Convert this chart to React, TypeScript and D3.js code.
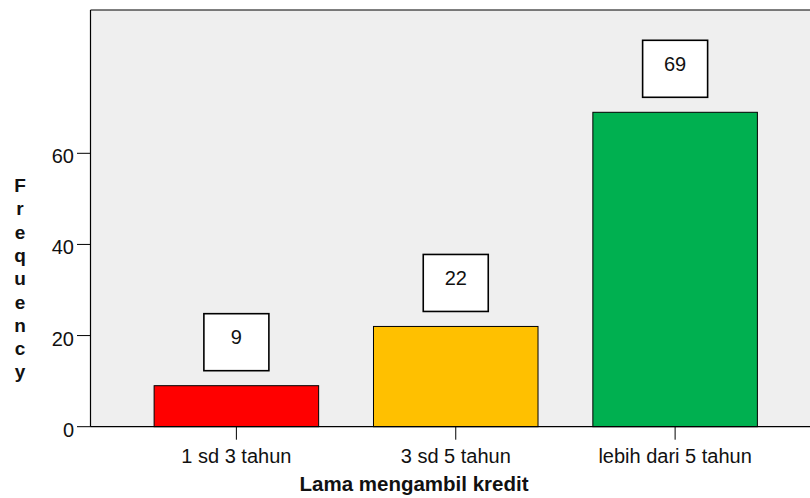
import React from "react";
import * as d3 from "d3";

const categories = ["1 sd 3 tahun", "3 sd 5 tahun", "lebih dari 5 tahun"];
const frequencies = [9, 22, 69];
const barColors = ["#ff0000", "#ffc000", "#00b050"];
const yTicks = [0, 20, 40, 60];
const yTitle = "Frequency";
const xTitle = "Lama mengambil kredit";

const W = 810;
const H = 498;
const FONT = "Arial, 'Liberation Sans', sans-serif";

export default function App() {
  const left = 90.5;
  const top = 10;
  const bottom = 426.7;
  const right = 821;

  const x = d3
    .scaleBand<string>()
    .domain(categories)
    .range([left, right])
    .paddingInner(0.25)
    .paddingOuter(0.29);
  const y = d3.scaleLinear().domain([0, 91.45]).range([bottom, top]);

  const boxW = 65;
  const boxH = 57;

  return (
    <svg
      width={W}
      height={H}
      style={{ position: "absolute", left: 0, top: 0, display: "block" }}
      fontFamily={FONT}
    >
      <rect x={0} y={0} width={W} height={H} fill="#ffffff" />
      {/* plot area */}
      <rect x={left} y={top} width={right - left} height={bottom - top} fill="#efefef" />
      <line x1={left} x2={right} y1={top} y2={top} stroke="#000" strokeWidth={1.2} />
      <line x1={left} x2={left} y1={top} y2={bottom} stroke="#000" strokeWidth={1.2} />

      {/* bars */}
      {categories.map((c, i) => {
        const bx = x(c)!;
        const by = y(frequencies[i]);
        return (
          <rect
            key={c}
            x={bx}
            y={by}
            width={x.bandwidth()}
            height={bottom - by}
            fill={barColors[i]}
            stroke="#000"
            strokeWidth={1}
          />
        );
      })}

      {/* value labels */}
      {categories.map((c, i) => {
        const cx = x(c)! + x.bandwidth() / 2;
        const by = y(frequencies[i]);
        const boxTop = by - 15 - boxH;
        return (
          <g key={"lbl" + c}>
            <rect
              x={cx - boxW / 2}
              y={boxTop}
              width={boxW}
              height={boxH}
              fill="#ffffff"
              stroke="#000"
              strokeWidth={1.6}
            />
            <text x={cx} y={boxTop + 30.5} textAnchor="middle" fontSize={20} fill="#111">
              {frequencies[i]}
            </text>
          </g>
        );
      })}

      {/* x axis */}
      <line x1={left} x2={right} y1={bottom} y2={bottom} stroke="#000" strokeWidth={1.2} />
      {categories.map((c) => {
        const cx = x(c)! + x.bandwidth() / 2;
        return (
          <g key={"xt" + c}>
            <line x1={cx} x2={cx} y1={bottom} y2={bottom + 13} stroke="#000" strokeWidth={1} />
            <text x={cx} y={462.5} textAnchor="middle" fontSize={20} fill="#111">
              {c}
            </text>
          </g>
        );
      })}
      <text
        x={414}
        y={491}
        textAnchor="middle"
        fontSize={20.5}
        fontWeight="bold"
        fill="#111"
      >
        {xTitle}
      </text>

      {/* y axis */}
      {yTicks.map((t) => (
        <g key={"yt" + t}>
          <line x1={77} x2={left} y1={y(t)} y2={y(t)} stroke="#000" strokeWidth={1} />
          <text x={74} y={y(t) + 10} textAnchor="end" fontSize={20} fill="#111">
            {t}
          </text>
        </g>
      ))}
      {yTitle.split("").map((ch, i) => (
        <text
          key={"yl" + i}
          x={20}
          y={192 + i * 23.3}
          textAnchor="middle"
          fontSize={19}
          fontWeight="bold"
          fill="#111"
        >
          {ch}
        </text>
      ))}
    </svg>
  );
}
